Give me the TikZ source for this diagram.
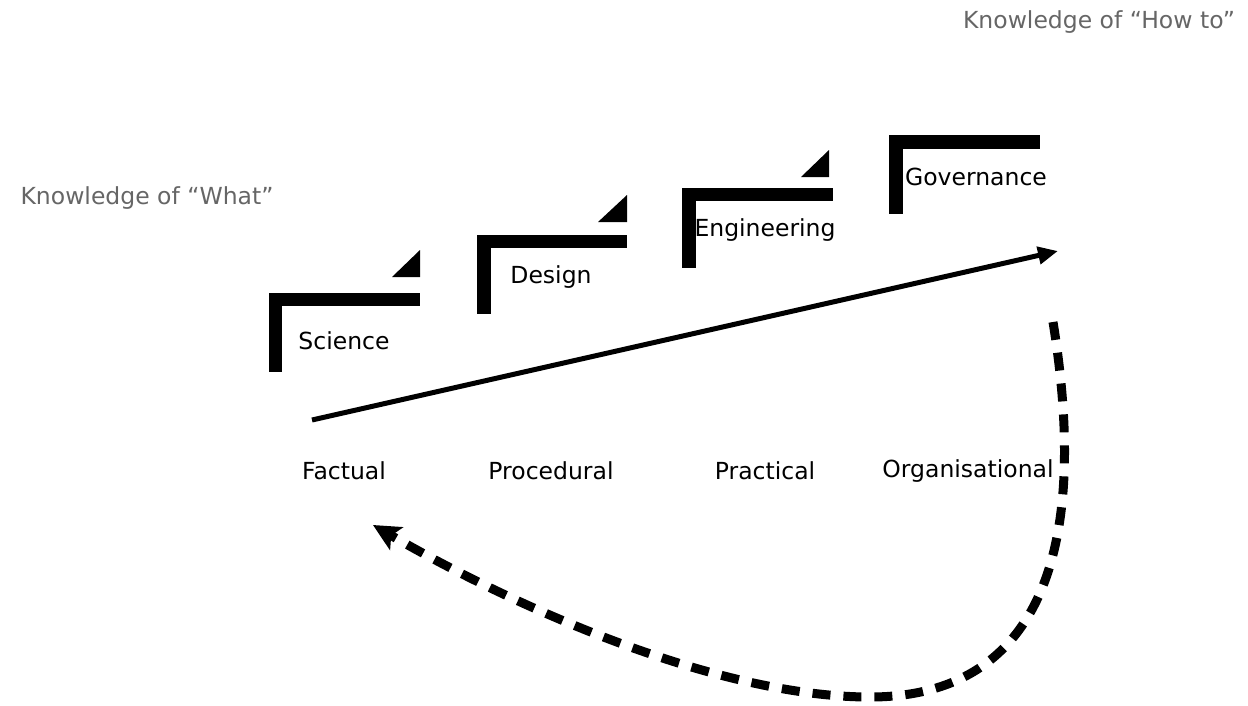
\documentclass[tikz,border=0pt]{standalone}
\usepackage{fontspec}
\setmainfont{DejaVu Sans}
\usetikzlibrary{arrows.meta}
\definecolor{labgray}{HTML}{666666}
\begin{document}
\begin{tikzpicture}[x=1pt,y=-1pt,
  lbl/.style={font=\fontsize{23.5}{28}\selectfont,inner sep=0pt},
  side/.style={lbl,text=labgray}]
\useasboundingbox (0,0) rectangle (1248,705);
% step shapes
\fill (269,293) rectangle (420,306);
\fill (269,293) rectangle (282,372);
\fill (392,277) -- (420,250) -- (420,277) -- cycle;
\fill (477,235) rectangle (627,248);
\fill (477,235) rectangle (491,314);
\fill (598,222) -- (627,195) -- (627,222) -- cycle;
\fill (682,188) rectangle (833,201);
\fill (682,188) rectangle (696,268);
\fill (801,177) -- (829,150) -- (829,177) -- cycle;
\fill (889,135) rectangle (1040,149);
\fill (889,135) rectangle (903,214);
% labels
\node[lbl] (sci) at (344,341) {Science};
\node[lbl] (des) at (551,277) {Design};
\node[lbl] (eng) at (765,230) {Engineering};
\node[lbl] (gov) at (976,177) {Governance};
\node[lbl] (fac) at (344,471) {Factual};
\node[lbl] (pro) at (551,471) {Procedural};
\node[lbl] (pra) at (765,471) {Practical};
\node[lbl] (org) at (968,471) {Organisational};
\node[side] (what) at (147,198) {Knowledge of “What”};
\node[side] (how) at (1099,22) {Knowledge of “How to”};
\coordinate (a1) at (312,420);
\coordinate (a2) at (1058,251);
\coordinate (d1) at (1053,322);
\coordinate (dm) at (870,697);
\coordinate (d2) at (373,525);
\draw[line width=5pt,-{Triangle[length=20pt,width=17pt]}] (a1) -- (a2);
\draw[line width=9pt,dash pattern=on 18pt off 13pt,-{Stealth[length=27pt,width=26pt,inset=6pt]}]
  (d1) .. controls (1090,550) and (1040,697) .. (dm)
       .. controls (720,697) and (520,610) .. (d2);
\end{tikzpicture}
\end{document}
